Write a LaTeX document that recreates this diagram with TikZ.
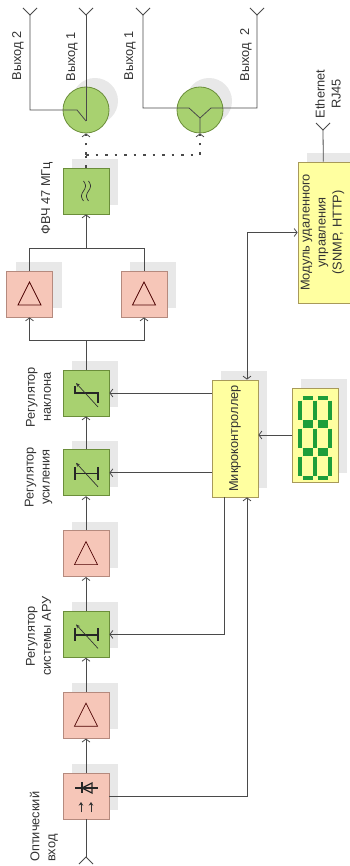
\documentclass[tikz,border=0pt]{standalone}
\usepackage{fontspec}
\setmainfont{Liberation Sans}
\usetikzlibrary{positioning,shadows,arrows.meta}

\definecolor{boxgreen}{HTML}{A8D170}
\definecolor{edgegreen}{HTML}{6B8E3A}
\definecolor{boxpink}{HTML}{F6C6B8}
\definecolor{edgepink}{HTML}{B58A7E}
\definecolor{boxyellow}{HTML}{FFFFA0}
\definecolor{edgeyellow}{HTML}{A89A5A}
\definecolor{wiregray}{HTML}{4A4A4A}
\definecolor{seggreen}{HTML}{1E9E3A}
\definecolor{txt}{HTML}{333333}

\tikzset{
  shade box/.style={drop shadow={shadow xshift=9pt, shadow yshift=9pt, fill=black!9, opacity=1}},
  blk/.style={rectangle, minimum size=46pt, inner sep=0pt, line width=0.8pt, shade box},
  gblk/.style={blk, draw=edgegreen, fill=boxgreen},
  pblk/.style={blk, draw=edgepink, fill=boxpink},
  yblk/.style={blk, draw=edgeyellow, fill=boxyellow},
  split/.style={circle, minimum size=46pt, inner sep=0pt, draw=edgegreen, fill=boxgreen, line width=0.8pt, shade box},
  lbl/.style={rotate=90, text=txt, align=center, inner sep=0pt, font=\fontsize{12.8}{16}\selectfont},
  wire/.style={draw=wiregray, line width=0.8pt},
  arr/.style={wire, ->},
  darr/.style={wire, <->},
  dots/.style={draw=wiregray, line width=2pt, dash pattern=on 2.5pt off 7pt},
  dottip/.style={-{Straight Barb[length=3pt,width=8pt,line width=0.8pt]}},
  sym/.style={draw=black!80, line width=0.7pt},
  symthick/.style={draw=black!85, line width=1.3pt},
  seg/.style={draw=seggreen, line width=3.2pt},
}

\begin{document}
\begin{tikzpicture}[x=1pt, y=-1pt, node distance=34pt, >={Straight Barb[length=3pt,width=8pt]}]
\useasboundingbox (0,0) rectangle (349,866);

% signal chain
\node[pblk] (pd) at (86,796) {};
\node[pblk, above=of pd] (amp1) {};
\node[gblk, above=of amp1] (agc) {};
\node[pblk, above=of agc] (amp2) {};
\node[gblk, above=of amp2] (gain) {};
\node[gblk, above=33pt of gain] (slope) {};
\node[pblk] (ampa) at (29.5,294) {};
\node[pblk] (ampb) at (144,294) {};
\node[gblk] (hpf) at (86,191) {};
\node[split] (s1) at (86,110) {};
\node[split] (s2) at (200,110) {};

% control part
\node[yblk, minimum height=117pt] (mc) at (235,438.5) {};
\node[yblk, minimum height=94pt] (disp) at (315,435) {};
\node[yblk, minimum width=52pt, minimum height=141pt] (mod) at (324,232.5) {};

% texts
\node[lbl] (lmc) at (mc) {Микроконтроллер};
\node[lbl] (lmod) at (322.5,232.5) {Модуль удаленного\\управления\\(SNMP, HTTP)};
\node[lbl] (lout2a) at (18,56) {Выход 2};
\node[lbl] (lout1a) at (72,57) {Выход 1};
\node[lbl] (lout1b) at (130,56) {Выход 1};
\node[lbl] (lout2b) at (246,55) {Выход\ \ 2};
\node[lbl] (leth) at (328,94) {Ethernet\\RJ45};
\node[lbl] (lhpf) at (47,198) {ФВЧ 47 МГц};
\node[lbl] (lslope) at (38.5,397) {Регулятор\\наклона};
\node[lbl] (lgain) at (38.5,477) {Регулятор\\усиления};
\node[lbl] (lagc) at (38.5,636) {Регулятор\\системы АРУ};
\node[lbl, align=left, anchor=west] (lin) at (44,862) {Оптический\\вход};

% antennas
\coordinate (o2a) at (30,15);
\coordinate (o1a) at (86,15);
\coordinate (o1b) at (143,15);
\coordinate (o2b) at (257,15);
\coordinate (eth) at (323,130);
\coordinate (optin) at (86,857);
\foreach \a in {o2a,o1a,o1b,o2b,eth}
  \draw[wire] ([shift={(-7,-7)}]\a) -- (\a) -- ([shift={(7,-7)}]\a);
\draw[wire] ([shift={(-7,7)}]optin) -- (optin) -- ([shift={(7,7)}]optin);
\draw[wire] (pd) -- (optin);
\draw[wire] (mod) -- (eth);

% signal path
\foreach \a/\b in {pd/amp1, amp1/agc, agc/amp2, amp2/gain, gain/slope}
  \draw[arr] (\a) -- (\b);
\coordinate (fork) at (86,340);
\coordinate (join) at (86,248);
\draw[wire] (slope) -- (fork);
\draw[arr] (fork) -| (ampa);
\draw[arr] (fork) -| (ampb);
\draw[wire] (ampa) |- (join);
\draw[wire] (ampb) |- (join);
\draw[arr] (join) -- (hpf);

% to the splitters
\coordinate (tap) at (86,155);
\draw[dots] (hpf) -- (tap);
\draw[dots, dottip] (tap) -- (s1);
\draw[dots, dottip] (tap) -| (s2);
\draw[wire] ([shift={(0,11)}]s1.center) -- (o1a);
\draw[wire] ([shift={(0,11)}]s1.center) -- ([shift={(-9,0)}]s1.center) -| (o2a);
\draw[wire] (s2.south) -- ([shift={(0,8)}]s2.center) -- ([shift={(-11,-2)}]s2.center) -| (o1b);
\draw[wire] ([shift={(0,8)}]s2.center) -- ([shift={(11,-2)}]s2.center) -| (o2b);

% control lines
\draw[arr] (mc.west |- slope) -- (slope);
\draw[arr] (mc.west |- gain) -- (gain);
\draw[arr] ([xshift=-11pt]mc.south) |- (agc);
\draw[arr] (pd) -| ([xshift=12pt]mc.south);
\draw[arr] (disp) -- (disp -| mc.east);
\draw[darr] ([xshift=12pt]mc.north) |- (mod);

% symbols
\foreach \n in {amp1,amp2,ampa,ampb}
  \draw[sym, draw=black!70!red] ([shift={(-11.5,11)}]\n.center) -- ([shift={(0,-12)}]\n.center) -- ([shift={(11.5,11)}]\n.center) -- cycle;
\foreach \n in {agc,gain}
  \draw[symthick] ([shift={(-11,-6)}]\n.center) -- ([shift={(-11,7)}]\n.center)
                  ([shift={(-11,0.5)}]\n.center) -- ([shift={(12,0.5)}]\n.center)
                  ([shift={(12,-6)}]\n.center) -- ([shift={(12,7)}]\n.center);
\draw[symthick] ([shift={(-11,-7)}]slope.center) -- ([shift={(-11,0)}]slope.center) -- ([shift={(12,0)}]slope.center) -- ([shift={(12,10)}]slope.center);
\foreach \n in {agc,gain,slope}
  \draw[sym, -{Stealth[length=4pt,width=3.5pt]}] ([shift={(12,14)}]\n.center) -- ([shift={(-10,-10)}]\n.center);
\foreach \dx in {-2.5,2.5}
  \draw[sym, domain=0:20, samples=30, smooth] plot ({86+\dx+2*sin(\x*18)}, {181+\x});
\draw[symthick] ([shift={(-11,-8)}]pd.center) -- ([shift={(12,-8)}]pd.center);
\draw[symthick] ([shift={(-4,-14)}]pd.center) -- ([shift={(-4,-3)}]pd.center);
\draw[symthick] ([shift={(-4,-8)}]pd.center) -- ([shift={(6,-13)}]pd.center) -- ([shift={(6,-3)}]pd.center) -- cycle;
\foreach \dx in {-5,5}
  \draw[sym, -{Stealth[length=3.5pt,width=4.5pt]}] ([shift={(\dx,16)}]pd.center) -- ([shift={(\dx,6)}]pd.center);

% display digits
\foreach \d in {398,426,454}{
  \draw[seg] (300,\d+2.5) -- (300,\d+21.5);
  \draw[seg] (315,\d+2.5) -- (315,\d+21.5);
  \draw[seg] (330,\d+2.5) -- (330,\d+21.5);
  \draw[seg] (302.5,\d) -- (312.5,\d);
  \draw[seg] (317.5,\d) -- (327.5,\d);
  \draw[seg] (302.5,\d+24) -- (312.5,\d+24);
  \draw[seg] (317.5,\d+24) -- (327.5,\d+24);
}
\end{tikzpicture}
\end{document}
